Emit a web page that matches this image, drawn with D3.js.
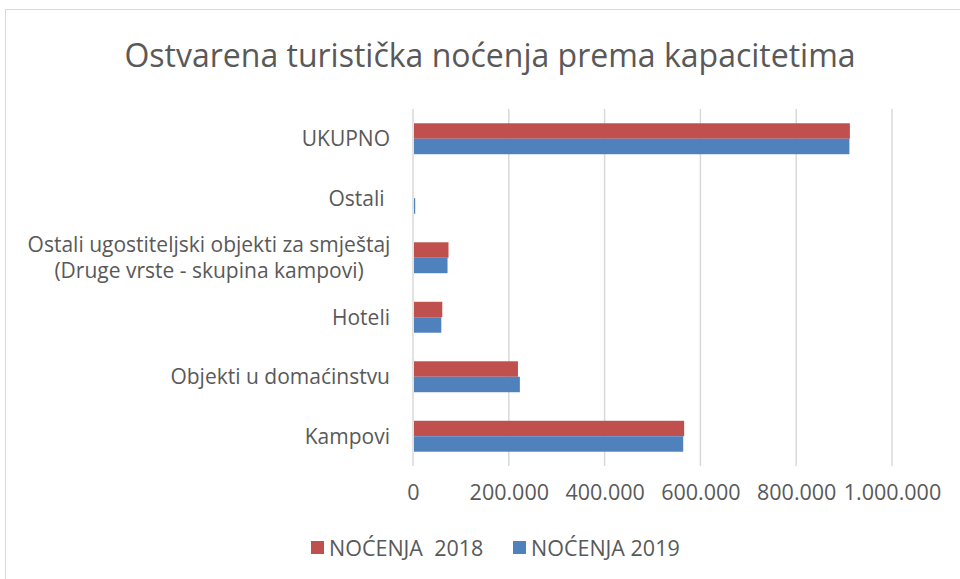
<!DOCTYPE html>
<html>
<head>
<meta charset="utf-8">
<script src="https://cdn.jsdelivr.net/npm/d3@7"></script>
<style>
  body { margin: 0; background: #fff; }
  text { font-family: "Open Sans", sans-serif; fill: #595959; }
</style>
</head>
<body>
<div class="canvas"></div>
<script>
// data, top to bottom as drawn
var categories = ["UKUPNO", "Ostali\u00A0", "Ostali ugostiteljski objekti za smještaj|(Druge vrste - skupina kampovi)", "Hoteli", "Objekti u domaćinstvu", "Kampovi"]
var series = ["NOĆENJA  2018", "NOĆENJA 2019"]
var values2018 = [910000, 0, 72000, 59000, 217000, 564000]
var values2019 = [909000, 2500, 70000, 57000, 221000, 562000]
var xTicks = [0, 200000, 400000, 600000, 800000, 1000000]
var colors = ["#c0504d", "#4f81bd"]
var title = "Ostvarena turistička noćenja prema kapacitetima"

var width = 960, height = 579
var svg = d3.select(".canvas").append("svg").attr("width", width).attr("height", height)

// chart border
svg.append('rect')
    .attr('x', 5.5).attr('y', 9.5)
    .attr('width', width).attr('height', height)
    .attr('fill', 'white')
    .attr('stroke', '#d9d9d9')

svg.append('text')
    .attr('x', 490).attr('y', 67)
    .attr('text-anchor', 'middle')
    .style('font-size', '32px')
    .text(title)

var plot = {left: 413, right: 892, top: 109, bottom: 466}

var x = d3.scaleLinear().domain([0, 1000000]).range([plot.left, plot.right])
var y = d3.scaleBand().domain(categories).range([plot.top, plot.bottom])
    .paddingInner(0.48).paddingOuter(0.24)
var ySub = d3.scaleBand().domain(series).range([0, y.bandwidth()])

var loc = d3.formatLocale({decimal: ",", thousands: ".", grouping: [3], currency: ["", ""]})
var fmt = loc.format(",")

// gridlines
svg.append('g').selectAll('line').data(xTicks).join('line')
    .attr('x1', d => x(d)).attr('x2', d => x(d))
    .attr('y1', plot.top).attr('y2', plot.bottom)
    .attr('stroke', '#d9d9d9')
    .attr('stroke-width', 1.5)

// x axis labels
var xAxis = svg.append('g')
    .attr('transform', 'translate(0,' + plot.bottom + ')')
    .call(d3.axisBottom(x).tickValues(xTicks).tickFormat(fmt).tickSize(0).tickPadding(19))
xAxis.select('.domain').remove()
xAxis.selectAll('text').style('font-size', '21.5px').attr('fill', '#595959').attr('font-family', null)

// bars
var rows = categories.map((c, i) => ({cat: c, vals: [values2018[i], values2019[i]]}))
var groups = svg.append('g').selectAll('g').data(rows).join('g')
    .attr('transform', d => 'translate(0,' + y(d.cat) + ')')
groups.selectAll('rect').data(d => d.vals.map((v, j) => ({s: series[j], v: v, j: j}))).join('rect')
    .attr('x', x(0) + 1)
    .attr('y', d => ySub(d.s))
    .attr('width', d => Math.max(0, x(d.v) - x(0)))
    .attr('height', ySub.bandwidth())
    .attr('fill', d => colors[d.j])

// category labels
categories.forEach(function(c) {
    var lines = c.split('|')
    var cy = y(c) + y.bandwidth() / 2
    if (lines.length == 1) {
        svg.append('text')
            .attr('x', 390).attr('y', cy)
            .attr('dy', '0.35em')
            .attr('text-anchor', 'end')
            .style('font-size', '21px')
            .text(c)
    } else {
        var t = svg.append('text')
            .attr('text-anchor', 'middle')
            .style('font-size', '21px')
        lines.forEach(function(l, k) {
            t.append('tspan')
                .attr('x', 209)
                .attr('y', cy + (k - (lines.length - 1) / 2) * 26)
                .attr('dy', '0.35em')
                .text(l)
        })
    }
})

// legend
var legend = svg.append('g')
var legX = [311, 513]
series.forEach(function(s, i) {
    legend.append('rect')
        .attr('x', legX[i]).attr('y', 541)
        .attr('width', 13).attr('height', 13)
        .attr('fill', colors[i])
    legend.append('text')
        .attr('x', legX[i] + 18).attr('y', 548)
        .attr('dy', '0.35em')
        .style('font-size', '21.5px')
        .style('white-space', 'pre')
        .text(s)
})
</script>
</body>
</html>
